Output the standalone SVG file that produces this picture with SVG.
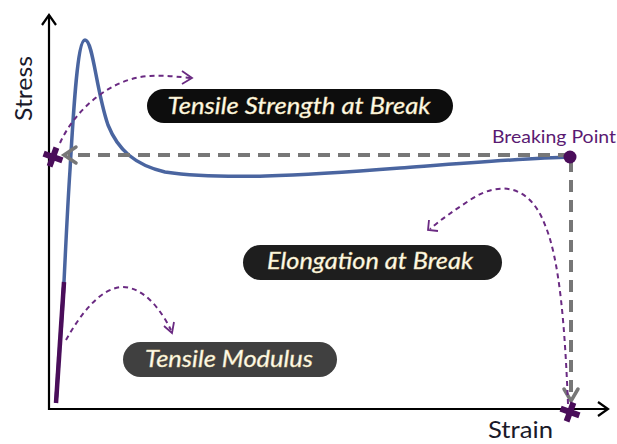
<svg xmlns="http://www.w3.org/2000/svg" width="617" height="444" viewBox="0 0 617 444">
<style>
.axis{stroke:#000;stroke-width:2.2;fill:none}
.guide{stroke:#777;stroke-width:4;fill:none;stroke-dasharray:12 8}
.chev{stroke:#777;stroke-width:3.5;fill:none;stroke-linecap:round}
.pa{stroke:#6a2a82;stroke-width:2;fill:none;stroke-dasharray:5 4}
.pah{stroke:#6a2a82;stroke-width:1.8;fill:none}
.cross{stroke:#4a0d5a;stroke-width:6;stroke-linecap:butt}
.lbl{font-family:Lato,"Open Sans","Liberation Sans",sans-serif;font-style:italic;font-size:23px;fill:#fffdf2;stroke:#e6d79c;stroke-width:0.4}
.ax{font-family:Lato,"Open Sans","Liberation Sans",sans-serif;font-size:24px;fill:#1a1a2a}
</style>
<rect width="617" height="444" fill="#fff"/>
<g id="axes">
<path class="axis" d="M49,15 V409 H608"/>
<path class="axis" d="M42,25 L49,15 L56,25"/>
<path class="axis" d="M598,402 L608,409 L598,416"/>
<text class="ax" transform="translate(32,88.5) rotate(-90)" text-anchor="middle" textLength="65" lengthAdjust="spacingAndGlyphs">Stress</text>
<text class="ax" x="520.5" y="438" text-anchor="middle" font-size="23" textLength="65" lengthAdjust="spacingAndGlyphs">Strain</text>
</g>
<g id="curve">
<path d="M56,403 L64,282 C66,240 68,200 70,170 C73,120 77,40 85,40 C93,40 96,90 108,125 C118,150 135,165 165,172 C220,180 300,176 400,168 C480,162 530,158 570,157" stroke="#4a65a0" stroke-width="3.5" fill="none" stroke-linejoin="round"/>
<path d="M56,403 L64,282" stroke="#4a0d5a" stroke-width="4.5" fill="none"/>
</g>
<g id="connectors">
<path class="guide" d="M570,155 H68"/>
<path class="chev" d="M76,147 L64,155 L76,163"/>
<path class="guide" d="M571,160 V398"/>
<path class="chev" d="M564,389 L571,401 L578,389"/>
<path class="pa" d="M60,143 C75,110 110,78 150,76 C165,75 180,77 190,78"/>
<path class="pah" d="M182,71 L192,78 L182,84"/>
<path class="pa" d="M568,404 C565,330 560,260 545,225 C530,185 500,180 470,200 C455,210 440,220 430,229"/>
<path class="pah" d="M429,220 L428,230 L438,231"/>
<path class="pa" d="M66,340 C80,315 100,288 122,287 C145,287 162,312 171,330"/>
<path class="pah" d="M164,326 L172,333 L174,322"/>
</g>
<g id="breaking-point">
<circle cx="570" cy="157" r="6.5" fill="#4a0d5a"/>
<text x="554" y="143" text-anchor="middle" font-family="Lato,'Open Sans','Liberation Sans',sans-serif" font-size="18" fill="#5a1a72" textLength="124" lengthAdjust="spacingAndGlyphs">Breaking Point</text>
</g>
<g id="marker-stress">
<g transform="translate(53,157) rotate(20)"><line class="cross" x1="-10" y1="0" x2="10" y2="0"/><line class="cross" x1="0" y1="-10" x2="0" y2="10"/></g>
</g>
<g id="marker-strain">
<g transform="translate(570,412) rotate(20)"><line class="cross" x1="-10" y1="0" x2="10" y2="0"/><line class="cross" x1="0" y1="-10" x2="0" y2="10"/></g>
</g>
<g id="tensile-strength">
<rect x="147" y="89" width="306" height="34" rx="17" fill="#0d0d0d"/>
<text class="lbl" x="299" y="114" text-anchor="middle" textLength="263" lengthAdjust="spacingAndGlyphs">Tensile Strength at Break</text>
</g>
<g id="elongation">
<rect x="243" y="245" width="259" height="35" rx="17.5" fill="#1e1e1e"/>
<text class="lbl" x="370" y="269" text-anchor="middle" textLength="206" lengthAdjust="spacingAndGlyphs">Elongation at Break</text>
</g>
<g id="tensile-modulus">
<rect x="123" y="342" width="214" height="35" rx="17.5" fill="#404040"/>
<text class="lbl" x="229" y="367" text-anchor="middle" textLength="168" lengthAdjust="spacingAndGlyphs">Tensile Modulus</text>
</g>
</svg>
